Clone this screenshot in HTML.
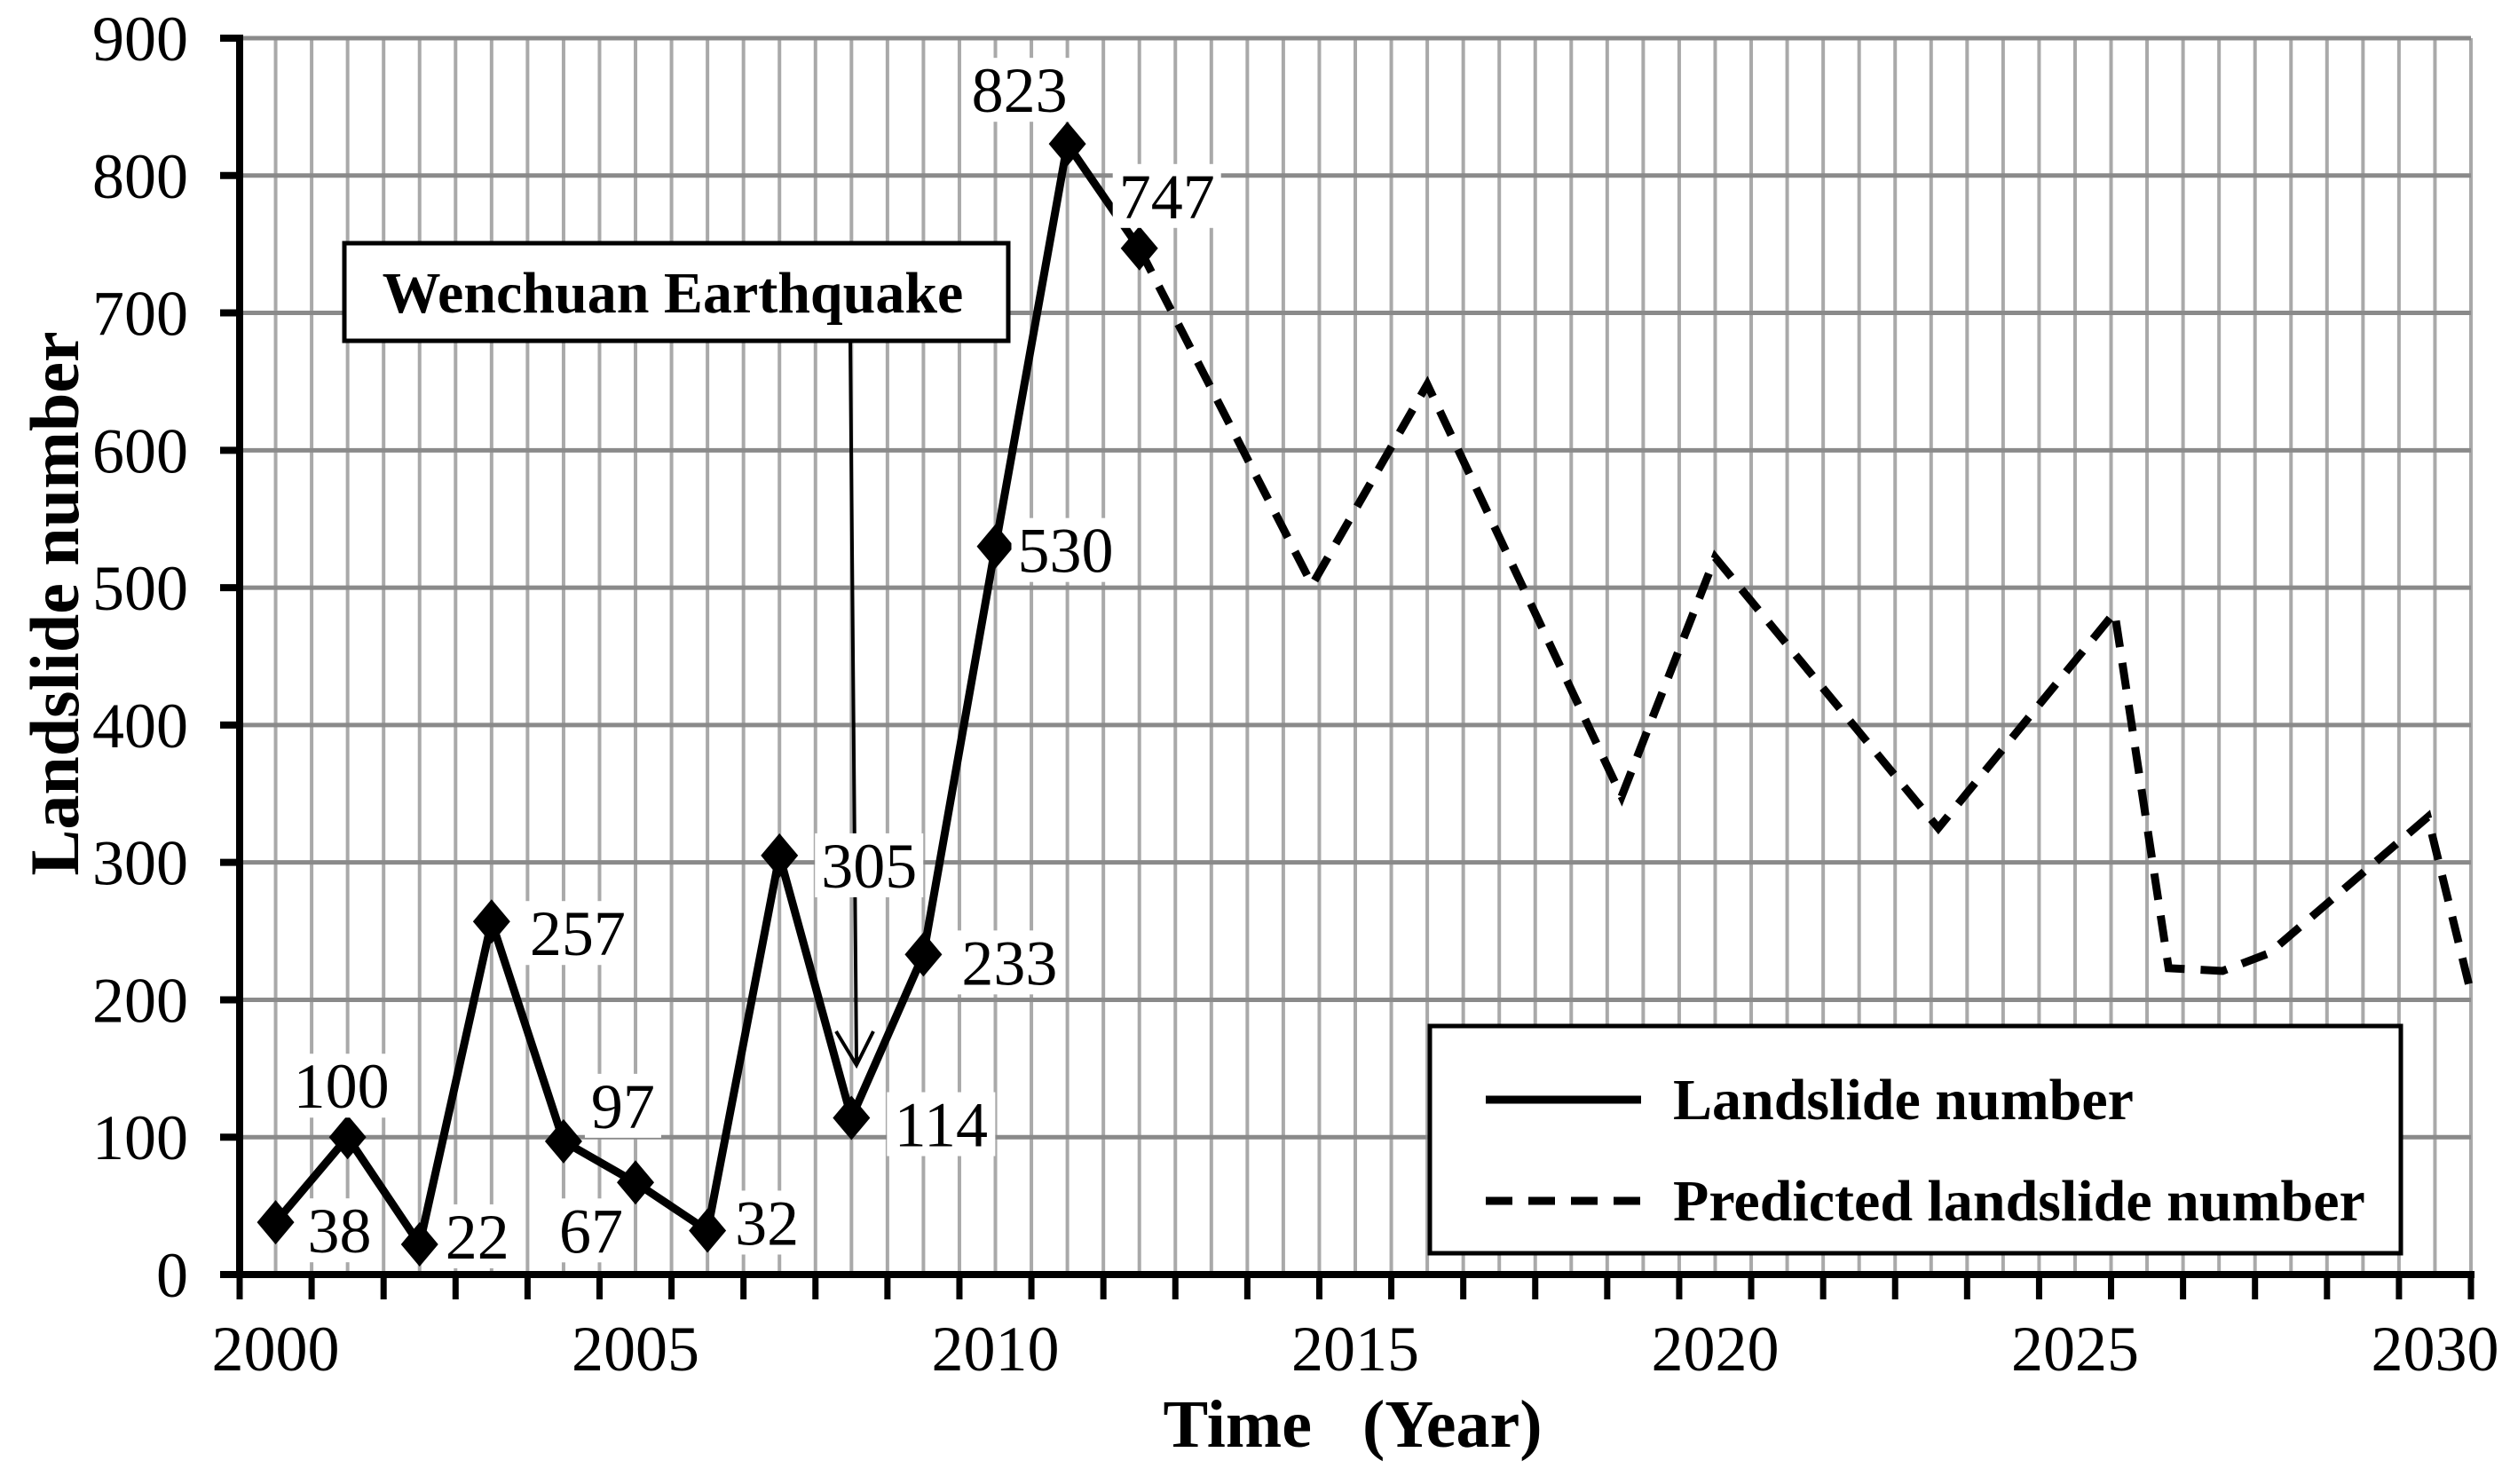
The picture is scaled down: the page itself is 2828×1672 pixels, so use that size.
<!DOCTYPE html>
<html><head><meta charset="utf-8"><style>
html,body{margin:0;padding:0;background:#fff;}
svg{display:block;font-family:"Liberation Serif",serif;}
</style></head><body>
<svg id="chart" width="2828" height="1672" viewBox="0 0 2828 1672" xmlns="http://www.w3.org/2000/svg">
<g id="grid"></g>
<g id="marks"></g>
<g id="axes"></g>
</svg>
<script>
const years = [2000,2001,2002,2003,2004,2005,2006,2007,2008,2009,2010,2011,2012];
const actualValues = [38,100,22,257,97,67,32,305,114,233,530,823,747];
const predYears = [2012,2014.4,2016.0,2018.7,2020.0,2023.1,2025.55,2026.3,2027.05,2027.7,2029.9,2030.5];
const predValues = [747,502,648,348,522,325,482,223,221,234,333,205];
const yTicks = [0,100,200,300,400,500,600,700,800,900];
const xTickLabels = [2000,2005,2010,2015,2020,2025,2030];
const valueLabelOffsets = [[72,9],[-7,-58],[65,-9],[97,13],[67,-40],[-50,54],[67,-9],[101,11],[101,7],[97,9],[79,4],[-54,-61],[31,-59]];

const NS='http://www.w3.org/2000/svg';
const X0=270, X1=2784, Y0=1436, Y1=43;
const catW=(X1-X0)/31;
const xs=y=>X0+(y-2000+0.5)*catW;
const ys=v=>Y0-(v/900)*(Y0-Y1);
function mk(parent,tag,attrs,text){const e=document.createElementNS(NS,tag);for(const k in attrs)e.setAttribute(k,attrs[k]);if(text!==undefined)e.textContent=text;parent.appendChild(e);return e;}
const grid=document.getElementById('grid'),marks=document.getElementById('marks'),axes=document.getElementById('axes');

for(let i=1;i<=62;i++){const x=X0+i*catW/2;
  const l=mk(grid,'line',{x1:x,x2:x,y1:Y1,y2:Y0,stroke:'#a9a9a9','stroke-width':4});
  
  }
yTicks.forEach(v=>{if(v===0)return;
  const l=mk(grid,'line',{x1:X0,x2:X1,y1:ys(v),y2:ys(v),stroke:'#8a8a8a','stroke-width':5});
  
  });

// predicted
let pd=predYears.map((y,i)=>(i?'L':'M')+xs(y)+' '+ys(predValues[i])).join(' ');
const pl=mk(marks,'path',{d:pd,fill:'none',stroke:'#000','stroke-width':9,'stroke-dasharray':'30 18'});



// annotation box and arrow
const box=mk(marks,'rect',{x:388,y:274,width:748,height:110,fill:'#fff',stroke:'#000','stroke-width':5});


const bt=mk(marks,'text',{x:758,y:352,'text-anchor':'middle','font-size':66,'font-weight':'bold'},'Wenchuan Earthquake');


const ar=mk(marks,'path',{d:'M958 384 L965 1198 M942 1162 L965 1200 L984 1162',fill:'none',stroke:'#000','stroke-width':4});



// actual
let ad=years.map((y,i)=>(i?'L':'M')+xs(y)+' '+ys(actualValues[i])).join(' ');
const al=mk(marks,'path',{d:ad,fill:'none',stroke:'#000','stroke-width':9});


years.forEach((y,i)=>{const cx=xs(y),cy=ys(actualValues[i]);
  const m=mk(marks,'path',{d:`M${cx} ${cy-25} L${cx+21} ${cy} L${cx} ${cy+25} L${cx-21} ${cy} Z`,fill:'#000'});
  
  
  const o=valueLabelOffsets[i];
  const tx=cx+o[0],ty=cy+o[1];
  const w=String(actualValues[i]).length*36+14;
  const bg=mk(marks,'rect',{x:tx-w/2,y:ty-36,width:w,height:72,fill:'#fff'});
  
  
  const t=mk(marks,'text',{x:tx,y:ty+25,'text-anchor':'middle','font-size':72},actualValues[i]);
  
  });

// axes
const ax=mk(axes,'path',{d:`M${X0} ${Y1-4} L${X0} ${Y0} L${X1+4} ${Y0}`,fill:'none',stroke:'#000','stroke-width':8});


yTicks.forEach(v=>{
  const l=mk(axes,'line',{x1:X0-22,x2:X0,y1:ys(v),y2:ys(v),stroke:'#000','stroke-width':8});
  
  
  const t=mk(axes,'text',{x:212,y:ys(v)+25,'text-anchor':'end','font-size':72},v);
  
  });
for(let i=0;i<=31;i++){const x=X0+i*catW;
  const l=mk(axes,'line',{x1:x,x2:x,y1:Y0,y2:Y0+28,stroke:'#000','stroke-width':7});
  
  }
xTickLabels.forEach(y=>{
  const t=mk(axes,'text',{x:xs(y),y:1544,'text-anchor':'middle','font-size':72},y);
  
  });
const xt=mk(axes,'text',{x:1524,y:1630,'text-anchor':'middle','font-size':76,'font-weight':'bold'},'Time\u00a0\u00a0\u00a0(Year)');


const yt=mk(axes,'text',{x:0,y:0,'text-anchor':'middle','font-size':78,'font-weight':'bold',transform:'translate(88,680) rotate(-90)'},'Landslide number');



// legend
const lg=mk(axes,'g',{});


mk(lg,'rect',{x:1611,y:1156,width:1094,height:256,fill:'#fff',stroke:'#000','stroke-width':5});
const l1=mk(lg,'line',{x1:1674,x2:1849,y1:1239,y2:1239,stroke:'#000','stroke-width':9});


const t1=mk(lg,'text',{x:1885,y:1261,'font-size':66,'font-weight':'bold'},'Landslide number');


const l2=mk(lg,'line',{x1:1674,x2:1849,y1:1353,y2:1353,stroke:'#000','stroke-width':9,'stroke-dasharray':'30 18'});


const t2=mk(lg,'text',{x:1885,y:1375,'font-size':66,'font-weight':'bold'},'Predicted landslide number');


</script>
</body></html>
